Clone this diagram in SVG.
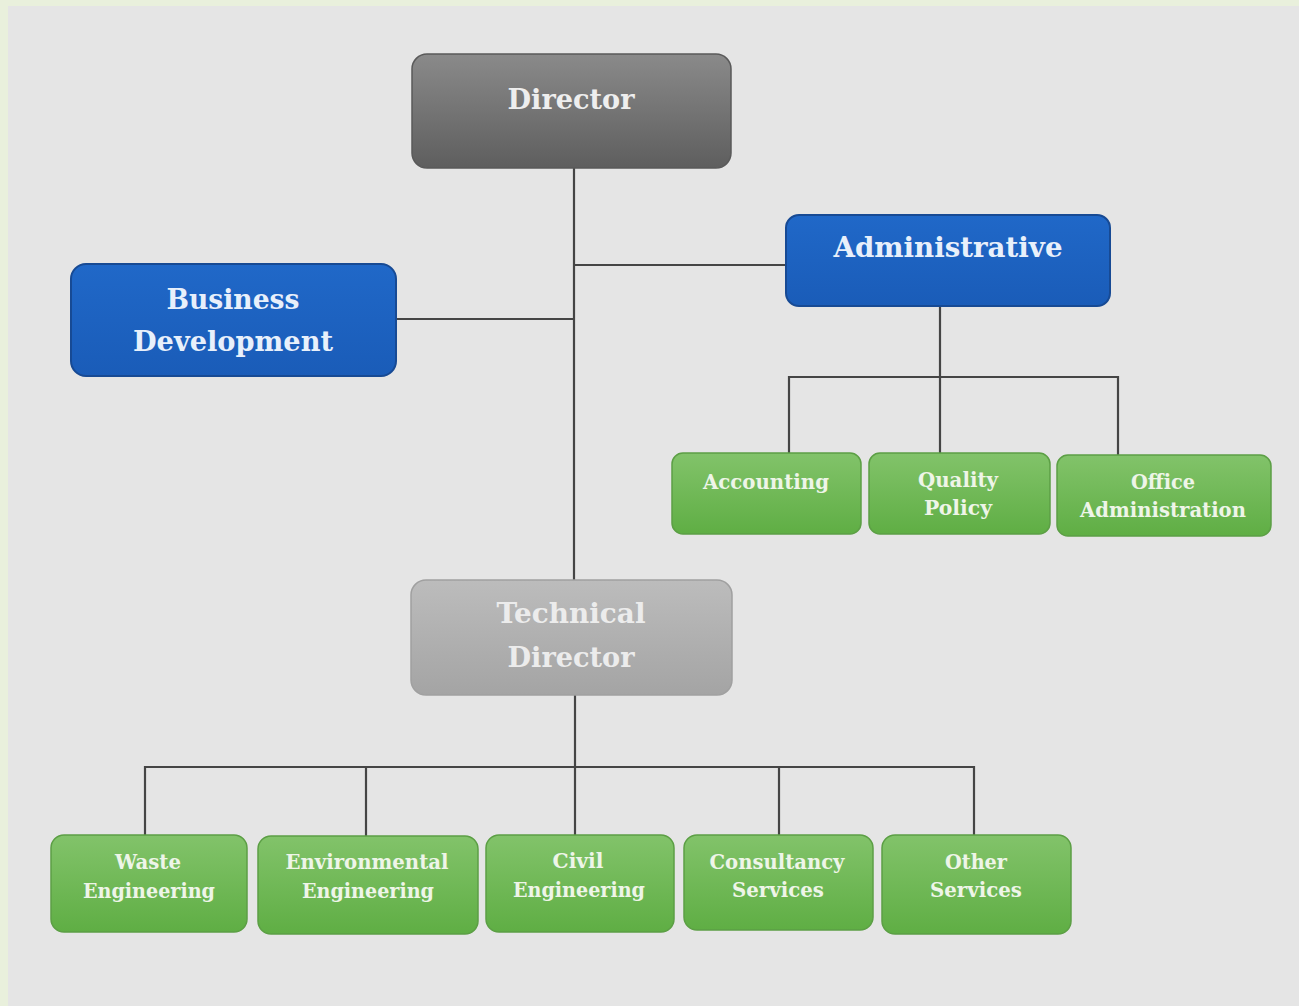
<svg xmlns="http://www.w3.org/2000/svg" width="1299" height="1006" viewBox="0 0 1299 1006">
<defs>
<linearGradient id="gDir" x1="0" y1="0" x2="0" y2="1"><stop offset="0" stop-color="#8a8a8a"/><stop offset="1" stop-color="#5e5e5e"/></linearGradient>
<linearGradient id="gTech" x1="0" y1="0" x2="0" y2="1"><stop offset="0" stop-color="#bcbcbc"/><stop offset="1" stop-color="#a4a4a4"/></linearGradient>
<linearGradient id="gBlue" x1="0" y1="0" x2="0" y2="1"><stop offset="0" stop-color="#2068c8"/><stop offset="1" stop-color="#1a5cb8"/></linearGradient>
<linearGradient id="gGreen" x1="0" y1="0" x2="0" y2="1"><stop offset="0" stop-color="#82c36a"/><stop offset="1" stop-color="#5fae44"/></linearGradient>
</defs>
<style>
.big{font-family:"DejaVu Serif","Liberation Serif",serif;font-weight:bold;font-size:28px;text-anchor:middle}
.sm{font-family:"DejaVu Serif","Liberation Serif",serif;font-weight:bold;font-size:20px;text-anchor:middle;fill:#eef5e8}
.dir{fill:url(#gDir);stroke:#5a5a5a;stroke-width:1.5}
.tech{fill:url(#gTech);stroke:#a0a0a0;stroke-width:1.5}
.blue{fill:url(#gBlue);stroke:#174a94;stroke-width:2}
.green{fill:url(#gGreen);stroke:#5c9f45;stroke-width:1.5}
.conn line{stroke:#454545;stroke-width:2.2}
</style>
<rect x="0" y="0" width="1299" height="1006" fill="#e9f0dc"/>
<rect x="8" y="6" width="1291" height="1000" fill="#e5e5e5"/>
<g class="conn" id="connectors">
<line x1="574" y1="168" x2="574" y2="580"/>
<line x1="574" y1="265" x2="786" y2="265"/>
<line x1="396" y1="319" x2="574" y2="319"/>
<line x1="940" y1="306" x2="940" y2="453"/>
<line x1="789" y1="377" x2="1118" y2="377"/>
<line x1="789" y1="376" x2="789" y2="453"/>
<line x1="1118" y1="376" x2="1118" y2="455"/>
<line x1="575" y1="695" x2="575" y2="835"/>
<line x1="145" y1="767" x2="975" y2="767"/>
<line x1="145" y1="766" x2="145" y2="835"/>
<line x1="366" y1="766" x2="366" y2="836"/>
<line x1="779" y1="766" x2="779" y2="835"/>
<line x1="974" y1="766" x2="974" y2="835"/>
</g>
<g id="director"><rect class="dir" x="412" y="54" width="319" height="114" rx="15"/><text class="big" x="571" y="109" fill="#eeeeee" textLength="127" lengthAdjust="spacingAndGlyphs">Director</text></g>
<g id="administrative"><rect class="blue" x="786" y="215" width="324" height="91" rx="13"/><text class="big" x="948" y="257" fill="#e8f0fb" textLength="229" lengthAdjust="spacingAndGlyphs">Administrative</text></g>
<g id="business-development"><rect class="blue" x="71" y="264" width="325" height="112" rx="15"/><text class="big" x="233" y="309" fill="#e8f0fb" textLength="133" lengthAdjust="spacingAndGlyphs">Business</text><text class="big" x="233" y="351" fill="#e8f0fb" textLength="200" lengthAdjust="spacingAndGlyphs">Development</text></g>
<g id="accounting"><rect class="green" x="672" y="453" width="189" height="81" rx="11"/><text class="sm" x="766" y="489" textLength="126" lengthAdjust="spacingAndGlyphs">Accounting</text></g>
<g id="quality-policy"><rect class="green" x="869" y="453" width="181" height="81" rx="11"/><text class="sm" x="958" y="487" textLength="80" lengthAdjust="spacingAndGlyphs">Quality</text><text class="sm" x="958" y="515" textLength="68" lengthAdjust="spacingAndGlyphs">Policy</text></g>
<g id="office-administration"><rect class="green" x="1057" y="455" width="214" height="81" rx="11"/><text class="sm" x="1163" y="489" textLength="64" lengthAdjust="spacingAndGlyphs">Office</text><text class="sm" x="1163" y="517" textLength="166" lengthAdjust="spacingAndGlyphs">Administration</text></g>
<g id="technical-director"><rect class="tech" x="411" y="580" width="321" height="115" rx="15"/><text class="big" x="571" y="623" fill="#ececec" textLength="149" lengthAdjust="spacingAndGlyphs">Technical</text><text class="big" x="571" y="667" fill="#ececec" textLength="127" lengthAdjust="spacingAndGlyphs">Director</text></g>
<g id="waste-engineering"><rect class="green" x="51" y="835" width="196" height="97" rx="13"/><text class="sm" x="148" y="869" textLength="66" lengthAdjust="spacingAndGlyphs">Waste</text><text class="sm" x="149" y="898" textLength="132" lengthAdjust="spacingAndGlyphs">Engineering</text></g>
<g id="environmental-engineering"><rect class="green" x="258" y="836" width="220" height="98" rx="13"/><text class="sm" x="367" y="869" textLength="163" lengthAdjust="spacingAndGlyphs">Environmental</text><text class="sm" x="368" y="898" textLength="132" lengthAdjust="spacingAndGlyphs">Engineering</text></g>
<g id="civil-engineering"><rect class="green" x="486" y="835" width="188" height="97" rx="13"/><text class="sm" x="578" y="868" textLength="51" lengthAdjust="spacingAndGlyphs">Civil</text><text class="sm" x="579" y="897" textLength="132" lengthAdjust="spacingAndGlyphs">Engineering</text></g>
<g id="consultancy-services"><rect class="green" x="684" y="835" width="189" height="95" rx="13"/><text class="sm" x="777" y="869" textLength="135" lengthAdjust="spacingAndGlyphs">Consultancy</text><text class="sm" x="778" y="897" textLength="92" lengthAdjust="spacingAndGlyphs">Services</text></g>
<g id="other-services"><rect class="green" x="882" y="835" width="189" height="99" rx="13"/><text class="sm" x="976" y="869" textLength="62" lengthAdjust="spacingAndGlyphs">Other</text><text class="sm" x="976" y="897" textLength="92" lengthAdjust="spacingAndGlyphs">Services</text></g>
</svg>
